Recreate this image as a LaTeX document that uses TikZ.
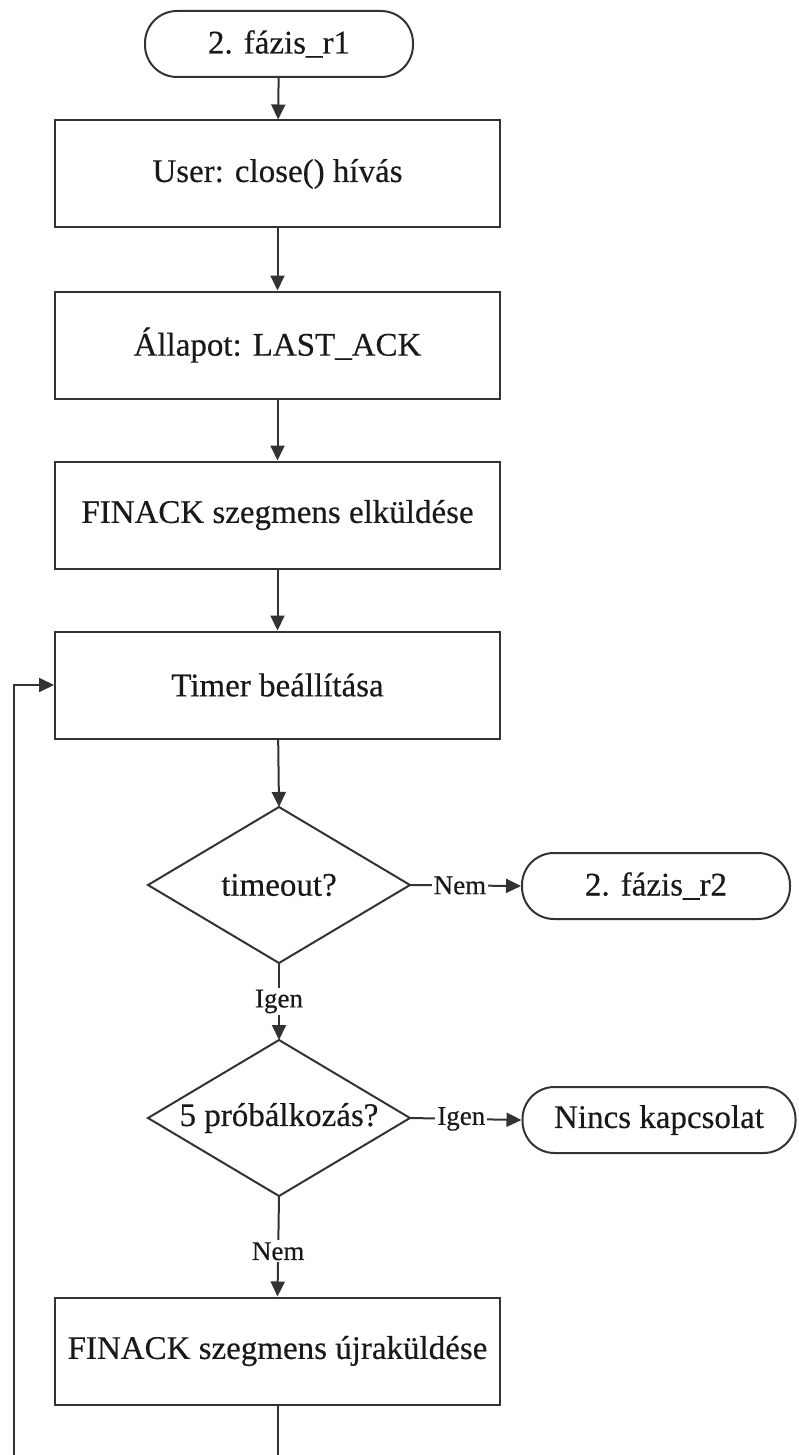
\documentclass[tikz,border=0pt]{standalone}
\usepackage{fontspec}
\setmainfont{Liberation Serif}[FakeBold=0.35]
\usetikzlibrary{arrows.meta}
\begin{document}
\begin{tikzpicture}[x=1pt,y=-1pt,
  line width=2pt, draw=black!80,
  every node/.style={font=\fontsize{33}{36}\selectfont, text=black!90},
  procbox/.style={draw=black!80, line width=2pt, minimum width=445pt, minimum height=107pt, inner sep=0pt},
  terminal/.style={draw=black!80, line width=2pt, rounded corners=32pt, minimum height=66pt, inner sep=0pt},
  decision/.style={minimum width=260pt, minimum height=154pt, inner sep=0pt},
  flow/.style={draw=black!80, line width=2pt, -{Triangle[length=15pt,width=14pt]}},
  lbl/.style={font=\fontsize{27}{30}\selectfont, fill=white, inner sep=2pt}
]
\clip (0,0) rectangle (798,1455);
\useasboundingbox (0,0) rectangle (798,1455);

% terminals
\node[terminal, minimum width=268pt] (start) at (279,44) {2. fázis\_r1};
\node[terminal, minimum width=268pt] (r2) at (656,886) {2. fázis\_r2};
\node[terminal, minimum width=273pt] (nincs) at (659,1120) {Nincs kapcsolat};

% process boxes
\node[procbox] (close) at (277.5,174) {User: close() hívás};
\node[procbox] (state) at (277.5,345) {Állapot: LAST\_ACK};
\node[procbox] (send)  at (277.5,515) {FINACK szegmens elküldése};
\node[procbox] (timer) at (277.5,685) {Timer beállítása};
\node[procbox] (resend) at (277.5,1351) {FINACK szegmens újraküldése};

% decisions
\node[decision] (tout) at (279,885) {timeout?};
\draw (tout.north) -- (tout.east) -- (tout.south) -- (tout.west) -- cycle;
\node[decision] (tries) at (279,1118) {5 próbálkozás?};
\draw (tries.north) -- (tries.east) -- (tries.south) -- (tries.west) -- cycle;

% main flow
\draw[flow] (start) -- (close);
\draw[flow] (close) -- (state);
\draw[flow] (state) -- (send);
\draw[flow] (send) -- (timer);
\draw[flow] (timer) -- (tout.north);
\draw[flow] (tout.east) -- node[lbl, pos=0.45] {Nem} (r2.west);
\draw[flow] (tout.south) -- node[lbl, pos=0.5] {Igen} (tries.north);
\draw[flow] (tries.east) -- node[lbl, pos=0.46] {Igen} (nincs.west);
\draw[flow] (tries.south) -- node[lbl, pos=0.55] {Nem} (resend.north);

% retry loop back to the timer
\coordinate (below) at (277.5,1480);
\coordinate (corner) at (14,1480);
\draw[flow] (resend.south) -- (below) -- (corner) |- (timer.west);
\end{tikzpicture}
\end{document}
